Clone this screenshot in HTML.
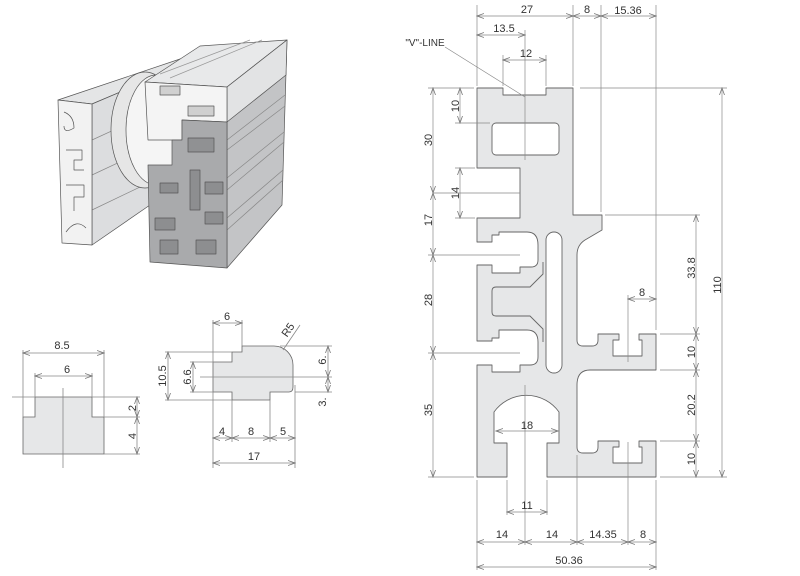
<!DOCTYPE html>
<html><head><meta charset="utf-8"><style>
html,body{margin:0;padding:0;background:#fff;}
svg{display:block;}
text{font-family:"Liberation Sans",Arial,sans-serif;font-size:11px;fill:#333;}
</style></head><body>
<svg width="800" height="576" viewBox="0 0 800 576" xmlns="http://www.w3.org/2000/svg">
<defs>
<marker id="a" markerWidth="8" markerHeight="6" refX="7" refY="3" orient="auto-start-reverse" markerUnits="userSpaceOnUse">
<path d="M0,0.5 L7,3 L0,5.5" fill="none" stroke="#777" stroke-width="0.8"/></marker>
</defs>

<!-- ===== 3D render ===== -->
<g stroke="#555" stroke-width="0.7" stroke-linejoin="round">
 <!-- left profile -->
 <polygon points="58,100 183,58 196,60 92,104" fill="#e4e5e6"/>
 <polygon points="92,104 196,60 190,190 150,205 92,245" fill="#dcdddf"/>
 <path d="M92,140 L190,95 M92,175 L188,130 M92,210 L186,165" fill="none" stroke="#888"/>
 <polygon points="58,100 92,104 92,245 62,243" fill="#f2f2f2"/>
 <path d="M64,112 q10,4 10,16 q-10,6 -10,-2 M66,150 l16,0 l0,10 l-8,0 l0,10 l10,0 M66,185 l18,0 l0,12 l-10,0 l0,14 M66,232 q10,-14 20,-4" fill="none"/>
 <!-- disk -->
 <ellipse cx="145" cy="130" rx="34" ry="58" fill="#e6e6e6"/>
 <ellipse cx="156" cy="130" rx="30" ry="55" fill="#f5f5f5"/>
 <rect x="160" y="120" width="24" height="18" fill="#eaeaea"/>
 <ellipse cx="160" cy="129" rx="4" ry="9" fill="#f8f8f8"/>
 <!-- right profile -->
 <polygon points="145,82 200,46 287,40 227,87" fill="#e8e9ea"/>
 <path d="M160,74 L250,40 M170,78 L262,40" fill="none" stroke="#999"/>
 <polygon points="227,87 287,40 282,205 227,268" fill="#c3c4c6"/>
 <polygon points="227,87 287,40 286,75 227,122" fill="#e2e3e4"/>
 <path d="M227,140 L285,95 M227,150 L285,106 M227,178 L284,132 M227,190 L284,142 M227,218 L283,170 M227,230 L283,180" fill="none" stroke="#888"/>
 <polygon points="145,82 227,87 227,122 182,120 182,140 148,140" fill="#f4f4f4"/>
 <polygon points="182,120 227,122 227,268 150,262 148,165 172,165 172,140 182,140" fill="#a9aaac"/>
 <rect x="160" y="86" width="20" height="9" fill="#d0d0d0"/>
 <rect x="188" y="106" width="26" height="10" fill="#d0d0d0"/>
 <rect x="188" y="138" width="26" height="14" fill="#909193"/>
 <path d="M160,183 l18,0 l0,10 l-18,0 Z M190,170 l10,0 l0,40 l-10,0 Z M205,182 l18,0 l0,12 l-18,0 Z M205,212 l18,0 l0,12 l-18,0 Z M155,218 l20,0 l0,12 l-20,0 Z M160,240 l18,0 l0,14 l-18,0 Z M196,240 l20,0 l0,14 l-20,0 Z" fill="#8d8e90"/>
</g>

<!-- ===== small drawing 1 ===== -->
<g stroke="#666" stroke-width="0.8">
 <path d="M35,397 L92,397 L92,417 L104,417 L104,454 L23,454 L23,417 L35,417 Z" fill="#e6e7e8"/>
 <g fill="none" stroke="#888">
  <line x1="12" y1="397" x2="35" y2="397"/><line x1="92" y1="397" x2="117" y2="397"/>
  <line x1="23" y1="350" x2="23" y2="417"/><line x1="104" y1="350" x2="104" y2="417"/>
  <line x1="35" y1="373" x2="35" y2="397"/><line x1="92" y1="373" x2="92" y2="397"/>
  <line x1="63" y1="388" x2="63" y2="468"/>
  <line x1="104" y1="417" x2="140" y2="417"/><line x1="104" y1="454" x2="140" y2="454"/><line x1="117" y1="397" x2="140" y2="397"/>
  <line x1="23" y1="353" x2="104" y2="353" marker-start="url(#a)" marker-end="url(#a)"/>
  <line x1="35" y1="376" x2="92" y2="376" marker-start="url(#a)" marker-end="url(#a)"/>
  <line x1="137" y1="397" x2="137" y2="417" marker-start="url(#a)" marker-end="url(#a)"/>
  <line x1="137" y1="417" x2="137" y2="454" marker-start="url(#a)" marker-end="url(#a)"/>
 </g>
</g>
<text x="62" y="349" text-anchor="middle">8.5</text>
<text x="67" y="373" text-anchor="middle">6</text>
<text transform="translate(136,408) rotate(-90)" text-anchor="middle">2</text>
<text transform="translate(136,436) rotate(-90)" text-anchor="middle">4</text>

<!-- ===== small drawing 2 ===== -->
<g stroke="#666" stroke-width="0.8">
 <path d="M213,362 L232,362 L232,352 L242,352 L242,346 L274,346 A19,19 0 0 1 293,365 L293,387 Q293,392 289,392 L270,392 L270,400 L232,400 L232,392 L213,392 Z" fill="#e6e7e8"/>
 <g fill="none" stroke="#888">
  <line x1="213" y1="320" x2="213" y2="468"/><line x1="242" y1="320" x2="242" y2="346"/>
  <line x1="232" y1="400" x2="232" y2="442"/><line x1="270" y1="400" x2="270" y2="442"/><line x1="295" y1="385" x2="295" y2="468"/>
  <line x1="165" y1="352" x2="232" y2="352"/><line x1="165" y1="400" x2="232" y2="400"/>
  <line x1="190" y1="362" x2="213" y2="362"/><line x1="190" y1="392" x2="213" y2="392"/>
  <line x1="200" y1="377" x2="332" y2="377"/>
  <line x1="280" y1="346" x2="332" y2="346"/><line x1="295" y1="392" x2="332" y2="392"/>
  <line x1="283" y1="350" x2="300" y2="325"/>
  <line x1="213" y1="323" x2="242" y2="323" marker-start="url(#a)" marker-end="url(#a)"/>
  <line x1="168" y1="352" x2="168" y2="400" marker-start="url(#a)" marker-end="url(#a)"/>
  <line x1="193" y1="362" x2="193" y2="392" marker-start="url(#a)" marker-end="url(#a)"/>
  <line x1="328" y1="346" x2="328" y2="377" marker-start="url(#a)" marker-end="url(#a)"/>
  <line x1="328" y1="377" x2="328" y2="392" marker-start="url(#a)" marker-end="url(#a)"/>
  <line x1="213" y1="438" x2="232" y2="438" marker-start="url(#a)" marker-end="url(#a)"/>
  <line x1="232" y1="438" x2="270" y2="438" marker-start="url(#a)" marker-end="url(#a)"/>
  <line x1="270" y1="438" x2="295" y2="438" marker-start="url(#a)" marker-end="url(#a)"/>
  <line x1="213" y1="463" x2="295" y2="463" marker-start="url(#a)" marker-end="url(#a)"/>
 </g>
</g>
<text x="227" y="320" text-anchor="middle">6</text>
<text transform="translate(291,332) rotate(-55)" text-anchor="middle">R5</text>
<text transform="translate(166,376) rotate(-90)" text-anchor="middle">10.5</text>
<text transform="translate(191,377) rotate(-90)" text-anchor="middle">6.6</text>
<text transform="translate(326,360) rotate(-90)" text-anchor="middle">6.</text>
<text transform="translate(326,402) rotate(-90)" text-anchor="middle">3.</text>
<text x="222" y="435" text-anchor="middle">4</text>
<text x="251" y="435" text-anchor="middle">8</text>
<text x="283" y="435" text-anchor="middle">5</text>
<text x="254" y="460" text-anchor="middle">17</text>

<!-- ===== main profile ===== -->
<g stroke="#666" stroke-width="0.9" stroke-linejoin="round">
<path fill="#e6e7e8" d="M477,88 L503,88 L503,95 L546,95 L546,88 L573,88 L573,215 L602,215 L602,230 L585,240 Q577,245 577,255 L577,340 Q577,346 583,346 L592,346 Q598,346 598,340 L598,334 L619,334 L619,340 L613,340 L613,356 L642,356 L642,340 L639,340 L639,334 L656,334 L656,370 L590,370 Q577,370 577,385 L577,447 Q577,453 583,453 L592,453 Q598,453 598,447 L598,441 L619,441 L619,447 L613,447 L613,463 L642,463 L642,447 L639,447 L639,441 L656,441 L656,477 L547,477 L547,443 L559,443 L559,412 A40,40 0 0 0 494,412 L494,443 L507,443 L507,477 L477,477 L477,365 L492,365 L492,372 L520,372 L520,365 L530,365 Q538,365 538,357 L538,342 Q538,330 527,330 L499,330 L499,338 L492,338 L492,341 L477,341 L477,265 L492,265 L492,273 L520,273 L520,267 L531,267 Q538,267 538,260 L538,245 Q538,232 527,232 L499,232 L499,235 L492,235 L492,242 L477,242 L477,218 L520,218 L520,168 L477,168 Z"/>
<rect x="492" y="123" width="67" height="32" rx="4" fill="#fff"/>
<rect x="546" y="232" width="16" height="141" rx="8" fill="#fff"/>
<path d="M543,262 L543,274 L530,287 L496,287 Q492,287 492,291 L492,312 Q492,316 496,316 L530,316 L543,329 L543,342" fill="none"/>
</g>

<!-- dimension lines main -->
<g fill="none" stroke="#888" stroke-width="0.7">
 <line x1="477" y1="5" x2="477" y2="86"/><line x1="573" y1="5" x2="573" y2="86"/>
 <line x1="601" y1="5" x2="601" y2="212"/><line x1="656" y1="5" x2="656" y2="330"/>
 <line x1="525" y1="30" x2="525" y2="160"/>
 <line x1="503" y1="55" x2="503" y2="86"/><line x1="546" y1="55" x2="546" y2="86"/>
 <line x1="428" y1="88" x2="474" y2="88"/><line x1="580" y1="88" x2="727" y2="88"/>
 <line x1="455" y1="123" x2="490" y2="123"/>
 <line x1="455" y1="168" x2="475" y2="168"/><line x1="455" y1="218" x2="475" y2="218"/>
 <line x1="433" y1="193" x2="520" y2="193"/>
 <line x1="428" y1="255" x2="520" y2="255"/>
 <line x1="428" y1="353" x2="520" y2="353"/>
 <line x1="428" y1="477" x2="474" y2="477"/>
 <line x1="605" y1="215" x2="700" y2="215"/>
 <line x1="660" y1="334" x2="700" y2="334"/><line x1="660" y1="370" x2="700" y2="370"/>
 <line x1="660" y1="441" x2="700" y2="441"/><line x1="660" y1="477" x2="727" y2="477"/>
 <line x1="628" y1="295" x2="628" y2="362"/>
 <line x1="628" y1="442" x2="628" y2="545"/>
 <line x1="525" y1="385" x2="525" y2="545"/>
 <line x1="507" y1="480" x2="507" y2="515"/><line x1="547" y1="480" x2="547" y2="515"/>
 <line x1="477" y1="480" x2="477" y2="570"/><line x1="577" y1="455" x2="577" y2="545"/>
 <line x1="656" y1="480" x2="656" y2="570"/>
 <line x1="445" y1="47" x2="525" y2="97"/>
 <line x1="477" y1="16" x2="573" y2="16" marker-start="url(#a)" marker-end="url(#a)"/>
 <line x1="573" y1="16" x2="601" y2="16" marker-start="url(#a)" marker-end="url(#a)"/>
 <line x1="601" y1="16" x2="656" y2="16" marker-start="url(#a)" marker-end="url(#a)"/>
 <line x1="477" y1="35" x2="525" y2="35" marker-start="url(#a)" marker-end="url(#a)"/>
 <line x1="503" y1="60" x2="546" y2="60" marker-start="url(#a)" marker-end="url(#a)"/>
 <line x1="433" y1="88" x2="433" y2="193" marker-start="url(#a)" marker-end="url(#a)"/>
 <line x1="433" y1="193" x2="433" y2="255" marker-start="url(#a)" marker-end="url(#a)"/>
 <line x1="433" y1="255" x2="433" y2="353" marker-start="url(#a)" marker-end="url(#a)"/>
 <line x1="433" y1="353" x2="433" y2="477" marker-start="url(#a)" marker-end="url(#a)"/>
 <line x1="460" y1="88" x2="460" y2="123" marker-start="url(#a)" marker-end="url(#a)"/>
 <line x1="460" y1="168" x2="460" y2="218" marker-start="url(#a)" marker-end="url(#a)"/>
 <line x1="696" y1="215" x2="696" y2="334" marker-start="url(#a)" marker-end="url(#a)"/>
 <line x1="696" y1="334" x2="696" y2="370" marker-start="url(#a)" marker-end="url(#a)"/>
 <line x1="696" y1="370" x2="696" y2="441" marker-start="url(#a)" marker-end="url(#a)"/>
 <line x1="696" y1="441" x2="696" y2="477" marker-start="url(#a)" marker-end="url(#a)"/>
 <line x1="722" y1="88" x2="722" y2="477" marker-start="url(#a)" marker-end="url(#a)"/>
 <line x1="628" y1="299" x2="656" y2="299" marker-start="url(#a)" marker-end="url(#a)"/>
 <line x1="496" y1="431" x2="558" y2="431" marker-start="url(#a)" marker-end="url(#a)"/>
 <line x1="507" y1="512" x2="547" y2="512" marker-start="url(#a)" marker-end="url(#a)"/>
 <line x1="477" y1="542" x2="525" y2="542" marker-start="url(#a)" marker-end="url(#a)"/>
 <line x1="525" y1="542" x2="577" y2="542" marker-start="url(#a)" marker-end="url(#a)"/>
 <line x1="577" y1="542" x2="628" y2="542" marker-start="url(#a)" marker-end="url(#a)"/>
 <line x1="628" y1="542" x2="656" y2="542" marker-start="url(#a)" marker-end="url(#a)"/>
 <line x1="477" y1="567" x2="656" y2="567" marker-start="url(#a)" marker-end="url(#a)"/>
</g>
<g>
<text x="527" y="13" text-anchor="middle">27</text>
<text x="587" y="13" text-anchor="middle">8</text>
<text x="628" y="14" text-anchor="middle">15.36</text>
<text x="504" y="32" text-anchor="middle">13.5</text>
<text x="526" y="57" text-anchor="middle">12</text>
<text x="425" y="46" text-anchor="middle" style="font-size:10px">"V"-LINE</text>
<text transform="translate(432,140) rotate(-90)" text-anchor="middle">30</text>
<text transform="translate(432,220) rotate(-90)" text-anchor="middle">17</text>
<text transform="translate(432,300) rotate(-90)" text-anchor="middle">28</text>
<text transform="translate(432,410) rotate(-90)" text-anchor="middle">35</text>
<text transform="translate(459,106) rotate(-90)" text-anchor="middle">10</text>
<text transform="translate(459,193) rotate(-90)" text-anchor="middle">14</text>
<text transform="translate(695,268) rotate(-90)" text-anchor="middle">33.8</text>
<text transform="translate(695,352) rotate(-90)" text-anchor="middle">10</text>
<text transform="translate(695,405) rotate(-90)" text-anchor="middle">20.2</text>
<text transform="translate(695,459) rotate(-90)" text-anchor="middle">10</text>
<text transform="translate(721,285) rotate(-90)" text-anchor="middle">110</text>
<text x="642" y="296" text-anchor="middle">8</text>
<text x="527" y="429" text-anchor="middle">18</text>
<text x="527" y="509" text-anchor="middle">11</text>
<text x="502" y="538" text-anchor="middle">14</text>
<text x="552" y="538" text-anchor="middle">14</text>
<text x="603" y="538" text-anchor="middle">14.35</text>
<text x="643" y="538" text-anchor="middle">8</text>
<text x="569" y="564" text-anchor="middle">50.36</text>
</g>
</svg>
</body></html>
